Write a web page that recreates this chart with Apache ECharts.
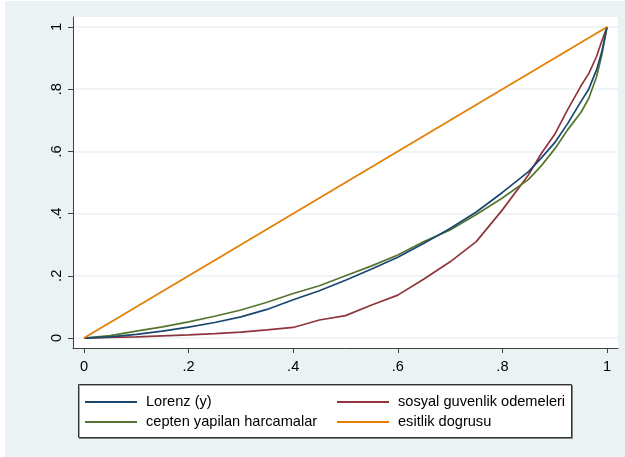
<!DOCTYPE html>
<html>
<head>
<meta charset="utf-8">
<script src="https://cdn.jsdelivr.net/npm/echarts@6/dist/echarts.min.js"></script>
<style>
html,body{margin:0;padding:0;background:#fff;width:625px;height:457px;overflow:hidden;}
#c{position:absolute;left:5px;top:1px;width:620px;height:456px;}
</style>
</head>
<body>
<div id="c"></div>
<script>
// cumulative population share
var popShare = [0,0.05,0.1,0.15,0.2,0.25,0.3,0.35,0.4,0.45,0.5,0.55,0.6,0.65,0.7,0.75,0.8,0.85,0.875,0.9,0.925,0.95,0.965,0.98,0.99,1];
var lorenzY   = [0,0.004,0.012,0.022,0.035,0.05,0.068,0.092,0.123,0.152,0.186,0.222,0.26,0.305,0.352,0.405,0.468,0.535,0.58,0.628,0.69,0.76,0.8,0.862,0.92,1];
var sosyal    = [0,0.002,0.004,0.007,0.01,0.014,0.019,0.026,0.034,0.058,0.072,0.106,0.138,0.19,0.245,0.31,0.412,0.525,0.595,0.655,0.735,0.81,0.85,0.905,0.955,1];
var cepten    = [0,0.008,0.022,0.036,0.052,0.07,0.09,0.115,0.143,0.168,0.2,0.232,0.267,0.31,0.347,0.397,0.45,0.51,0.555,0.608,0.67,0.725,0.77,0.84,0.91,1];
var esitlikX  = [0,1];
var esitlikY  = [0,1];
var tickValues = [0,0.2,0.4,0.6,0.8,1];
var seriesNames = ['Lorenz (y)','sosyal guvenlik odemeleri','cepten yapilan harcamalar','esitlik dogrusu'];
var colors = ['#1a476f','#90353b','#55752f','#e37e00'];

function pairs(xs, ys){ return xs.map(function(x,i){ return [x, ys[i]]; }); }
function fmt(v){
  if (Math.abs(v) < 1e-9) return '0';
  if (Math.abs(v-1) < 1e-9) return '1';
  return String(Math.round(v*10)/10).replace(/^0/, '');
}
var font = 'Liberation Sans, Arial, sans-serif';
var chart = echarts.init(document.getElementById('c'), null, {renderer:'canvas'});

function legendItem(name, left, top){
  return {
    data:[name], left:left, top:top, orient:'horizontal',
    icon:'rect', itemWidth:52, itemHeight:2, itemGap:0, padding:0,
    textStyle:{color:'#000', fontSize:14.6, fontFamily:font, padding:[0,0,0,4], lineHeight:16},
    selectedMode:false
  };
}

chart.setOption({
  backgroundColor:'#EAF2F3',
  animation:false,
  color: colors,
  grid:{left:68, top:16, right:7, bottom:109, show:true, backgroundColor:'#ffffff', borderWidth:0, containLabel:false},
  xAxis:{
    type:'value', min:-0.021, max:1.021,
    axisLine:{show:true, onZero:false, lineStyle:{color:'#404040', width:1}},
    axisTick:{show:true, length:5, lineStyle:{color:'#404040'}, customValues: tickValues},
    axisLabel:{color:'#000', fontSize:14.6, fontFamily:font, margin:11, formatter:fmt, customValues: tickValues},
    splitLine:{show:false}
  },
  yAxis:{
    type:'value', min:-0.032, max:1.032,
    axisLine:{show:true, onZero:false, lineStyle:{color:'#404040', width:1}},
    axisTick:{show:true, length:5, lineStyle:{color:'#404040'}, customValues: tickValues},
    axisLabel:{color:'#000', fontSize:14.6, fontFamily:font, margin:9, rotate:90, formatter:fmt, customValues: tickValues},
    splitLine:{show:true, lineStyle:{color:'#EAF2F3', width:1.5}}
  },
  legend:[
    legendItem(seriesNames[0], 80, 393),
    legendItem(seriesNames[1], 332, 393),
    legendItem(seriesNames[2], 80, 413),
    legendItem(seriesNames[3], 332, 413)
  ],
  graphic:[{
    type:'rect', left:73, top:383, z:-1,
    shape:{width:493, height:53},
    style:{fill:'#ffffff', stroke:'#333333', lineWidth:1, shadowColor:'rgba(0,0,0,0.35)', shadowOffsetX:1, shadowOffsetY:1, shadowBlur:0}
  }],
  series:[
    {name:seriesNames[0], type:'line', data:pairs(popShare, lorenzY), showSymbol:false, symbol:'none', lineStyle:{width:1.7, color:colors[0]}, z:3},
    {name:seriesNames[1], type:'line', data:pairs(popShare, sosyal), showSymbol:false, symbol:'none', lineStyle:{width:1.7, color:colors[1]}, z:2},
    {name:seriesNames[2], type:'line', data:pairs(popShare, cepten), showSymbol:false, symbol:'none', lineStyle:{width:1.7, color:colors[2]}, z:2},
    {name:seriesNames[3], type:'line', data:pairs(esitlikX, esitlikY), showSymbol:false, symbol:'none', lineStyle:{width:1.7, color:colors[3]}, z:4}
  ]
});
</script>
</body>
</html>
